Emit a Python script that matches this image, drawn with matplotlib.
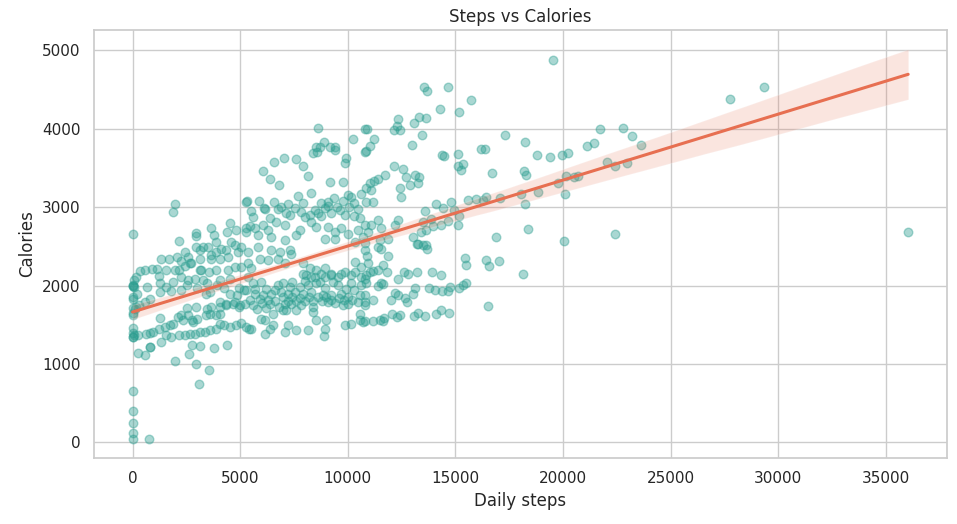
import matplotlib
matplotlib.use("Agg")
import matplotlib.pyplot as plt
import seaborn as sns
import numpy as np

# (daily steps, calories), grouped by region
zero_step_days = [(0,2660),(0,2000),(0,1990),(0,1850),(0,1720),(0,1650),(0,1460),(0,1400),(0,1350),(0,1340),
    (0,660),(0,400),(0,250),(0,120),(0,50),(770,50),(0,1622),(0,2005),(0,1835),(160,1728),(120,1707),(310,1750),
    (80,1366),(240,1366),(80,2069),(170,2111),(80,1976),(200,1899)]
low_tail = [(1950,1040),(3080,740),(3540,920),(2950,1000),(2630,1130),(3760,1200),(4400,1240),(270,1140),
    (590,1115),(820,1220),(1310,1280),(790,1217),(2750,1239),(3110,1226)]
a_lower = [(1270,1590),(630,1388),(820,1396),(940,1409),(1230,1452),(1490,1473),(1720,1494),(1870,1507),(1560,1366),
    (1800,1345),(2180,1366),(2420,1366),(2650,1388),(2880,1388),(3110,1409),(3350,1409),(3580,1430),(3890,1452),
    (4040,1516),(4270,1494),(4510,1473),(4820,1494),(5050,1524),(5280,1473),(2100,1600),(2260,1622),(2590,1622),
    (2750,1558),(2830,1537),(2340,1558),(3000,1580),(3390,1622),(3580,1643),(3890,1622),(4040,1643),(3480,1707),
    (3650,1728),(4040,1728),(4350,1750),(4650,1771),(4960,1728),(5200,1771),(560,1792),(4040,1792),(4350,1771),
    (4740,1792),(4980,1750),(2960,1728),(2540,1720)]
a_mid = [(330,2188),(600,2196),(880,2209),(1130,2209),(1560,2196),(660,1976),(1230,2120),(1260,2027),(1560,1983),
    (1870,2048),(1950,2196),(2180,2196),(2420,2248),(2720,2282),(2260,2111),(2590,2069),(2910,2090),(3270,2069),
    (3110,2196),(3540,2175),(3890,2196),(4420,2196),(4740,2231),(5050,2239),(4040,2069),(4510,2090),(1260,1920),
    (1800,1932),(2260,1941),(2540,2005),(3000,1963),(3470,2027),(3930,2005),(4240,1963),(4940,1963),(3390,1899),
    (3580,1920),(790,1835),(4510,1899),(4870,1877),(5160,1941),(3190,2196),(2650,2282),(2260,2316)]
a_upper = [(1950,3035),(1870,2933),(5280,3069),(2150,2567),(2930,2665),(2930,2635),(3650,2729),(3780,2643),
    (3890,2558),(4510,2800),(4590,2558),(4380,2686),(4810,2707),(5250,2729),(2960,2486),(3270,2486),(3500,2486),
    (3110,2452),(3650,2388),(3890,2430),(4120,2461),(4350,2452),(4740,2516),(5050,2486),(2420,2430),(2060,2367),
    (2590,2367),(1690,2333),(3110,2333),(3650,2345),(4040,2333),(4420,2367),(4890,2430),(1340,2333)]
b_upper = [(8580,3707),(8380,3694),(9390,3729),(9900,3623),(9850,3559),(10780,3707),(7610,3610),(7910,3525),
    (7030,3627),(6560,3572),(6050,3465),(6370,3354),(6800,3281),(8150,3397),(9150,3316),(9770,3316),(5330,3078),
    (5870,3078),(6570,3061),(7220,3039),(7680,3146),(8300,3176),(8740,3048),(9080,3018),(9360,3112),(9770,3082),
    (10010,3154),(10160,3125),(10620,3167),(10040,3005),(10470,2971),(10860,3069),(5520,2950),(6130,2971),
    (6750,2971),(7140,2920),(7530,2984),(7840,2941),(8230,2899),(8460,2963),(8920,2984),(8760,2886),(9230,2920),
    (9620,2963),(9850,2899),(10280,2886),(10550,2856),(5440,2758),(5670,2729),(6050,2771),(6290,2707),(6680,2814),
    (7060,2771),(7760,2707),(8300,2814),(8530,2745),(9080,2750),(9390,2686),(9690,2729),(10000,2660),(10470,2707),
    (10780,2771),(5280,2686),(5820,2643),(6440,2622),(7600,2643),(8920,2588),(9390,2588),(10320,2558),(10700,2614),
    (5820,2494),(7060,2580),(6440,2452),(6830,2430),(7300,2452),(7370,2409),(5360,2430),(5900,2345),(6290,2324),
    (6750,2345),(7060,2282),(5360,2282),(5520,2218),(7910,2282),(8230,2218),(8530,2196),(8920,2218),(9230,2154),
    (9540,2111),(9850,2175),(10320,2303),(10620,2239),(10160,2133),(8920,2111),(8460,2111),(8070,2133),
    (10780,2452),(10780,2537),(8610,4006),(8530,3763),(8690,3771),(8890,3827),(9150,3763),(9390,3763),
    (10240,3865),(10810,3993)]
b_lower = [(7910,2154),(8300,2111),(8770,2154),(9230,2133),(9690,2154),(10320,2175),(10620,2111),(10860,2133),
    (5360,2111),(5590,2027),(5980,2048),(6750,2005),(7300,1983),(7760,1983),(8150,2005),(8530,2027),(8920,1963),
    (9540,2005),(10160,2027),(10620,2005),(5280,1941),(5670,1899),(6050,1877),(6440,1899),(6910,1920),(7220,1899),
    (7530,1920),(7910,1899),(8300,1920),(8840,1877),(9230,1877),(9690,1899),(10550,1877),(5440,1813),(5900,1835),
    (6290,1813),(7370,1771),(7840,1750),(8380,1728),(9080,1792),(9770,1750),(10000,1771),(10470,1792),(10780,1750),
    (7140,1686),(7600,1686),(8380,1665),(10550,1643),(5520,1452),(5980,1580),(6130,1558),(6520,1643),(6520,1494),
    (6370,1452),(6130,1388),(7060,1409),(7220,1494),(7610,1430),(8150,1430),(8530,1558),(9000,1567),(8920,1452),
    (8890,1354),(6980,1686),(7060,1771),(9850,1494),(10130,1516),(10550,1558),(10700,1537),(5390,1452)]
b_dense = [(5600,1750),(5800,1700),(6000,1780),(6200,1720),(6400,1760),(6600,1800),(6800,1730),(7000,1850),
    (7200,1800),(7400,1850),(7600,1800),(7800,1840),(8000,1800),(8200,1850),(8400,1800),(8600,1860),(8800,1800),
    (9000,1850),(9200,1820),(9400,1780),(9600,1840),(9800,1810),(10000,1860),(10200,1820),(5700,1960),(6200,1960),
    (6600,1940),(7000,2030),(7400,2040),(8000,2060),(8700,2050),(9300,2040),(9900,1960),(10300,1950),(6100,2990),
    (6900,3000),(7300,2900),(8000,2880),(8600,2920),(9100,3060),(9500,3000),(10300,3050),(5600,2870),(6400,2860),
    (7900,3050)]
c_band = [(15430,2346),(15470,2269),(13760,1963),(14070,1950),(14370,1932),(14650,1932),(14730,1983),(15160,1975),
    (15350,2005),(15510,2027),(13930,2167),(14330,2141),(14080,1643),(14350,1694),(14700,1656),(13570,1618),
    (13260,1651),(13060,1618),(12410,1631),(12050,1635),(12300,1600),(11680,1583),(11630,1545),(11480,1558),
    (11170,1554),(10780,1545),(13100,1963),(13030,1899),(12640,1848),(12770,1792),(12210,1907),(12020,1813),
    (12330,1877),(11400,1996),(11630,2018),(11170,1813),(10780,1792),(10780,1877),(10780,2078),(11520,2039),
    (11010,2175),(11400,2205),(11630,2260),(11830,2167),(12330,2078),(12610,2167),(12790,2145),(13230,2175),
    (11860,2375),(11400,2494),(11520,2464),(13230,2528),(13490,2516),(13690,2473),(10900,2375),(10940,2282),
    (11170,2188),(10860,2027)]
c_upper = [(14300,4252),(15160,4210),(15740,4367),(12330,4124),(12140,3984),(12410,3984),(12300,4040),(13070,4078),
    (13300,4155),(13620,4142),(10910,3993),(11220,3865),(11030,3784),(10860,3716),(13000,3793),(13440,3920),
    (14370,3665),(14470,3652),(15120,3678),(16200,3738),(15120,3525),(15350,3550),(15270,3473),(12140,3525),
    (12560,3482),(11710,3409),(13140,3409),(13300,3380),(12720,3380),(11400,3354),(11210,3333),(11010,3303),
    (12410,3248),(12870,3281),(13260,3303),(10860,3239),(12450,3133),(11170,3069),(11060,3218),(14080,3039),
    (14420,2984),(14810,3069),(15580,3090),(15970,3103),(16280,3090),(13570,2954),(14930,2963),(15160,2890),
    (15120,2771),(14650,2826),(14310,2771),(13880,2843),(13490,2814),(13960,2758),(13620,2707),(13410,2686),
    (13030,2614),(12330,2835),(12170,2771),(11400,2835),(11560,2729),(11090,2771),(10940,2686),(11480,2580),
    (11860,2588),(13260,2528),(13640,2516),(13520,4533),(13660,4482),(14640,4533)]
d_high_steps = [(19530,4874),(27740,4376),(29340,4533),(36030,2678),(22790,4006),(23200,3903),(23620,3789),
    (22400,3525),(22970,3560),(22400,2656),(18370,2716),(16880,2618),(20030,2563),(16440,2324),(16580,2248),
    (17010,2311),(18140,2145),(16510,1746),(17300,3917),(18220,3831),(16360,3742),(18790,3661),(19390,3640),
    (19940,3661),(20230,3687),(21110,3776),(21440,3818),(21700,3997),(16700,3431),(18190,3457),(18290,3406),
    (16440,3133),(17050,3120),(18030,3163),(18830,3197),(19760,3311),(20150,3397),(20510,3380),(20690,3397),
    (22040,3576),(20080,3167),(18220,3039)]

groups = [zero_step_days, low_tail, a_lower, a_mid, a_upper, b_upper, b_lower, b_dense, c_band, c_upper, d_high_steps]
steps = np.array([p[0] for g in groups for p in g], dtype=float)
calories = np.array([p[1] for g in groups for p in g], dtype=float)

sns.set_theme(style="whitegrid")
fig = plt.figure(figsize=(9.57, 5.24), dpi=100)
ax = fig.add_axes([0.098, 0.126, 0.8915, 0.817])
sns.regplot(x=steps, y=calories, ax=ax, seed=0,
            scatter_kws=dict(s=38, alpha=0.4, color="#2a9d8f", edgecolor="#2a9d8f", linewidths=1),
            line_kws=dict(color="#e76f51", linewidth=2.2))
for coll in ax.collections[1:]:
    coll.set_facecolor("#e76f51")
    coll.set_alpha(0.18)
ax.set_title("Steps vs Calories")
ax.set_xlabel("Daily steps")
ax.set_ylabel("Calories")
fig.savefig("out.png", dpi=100)
